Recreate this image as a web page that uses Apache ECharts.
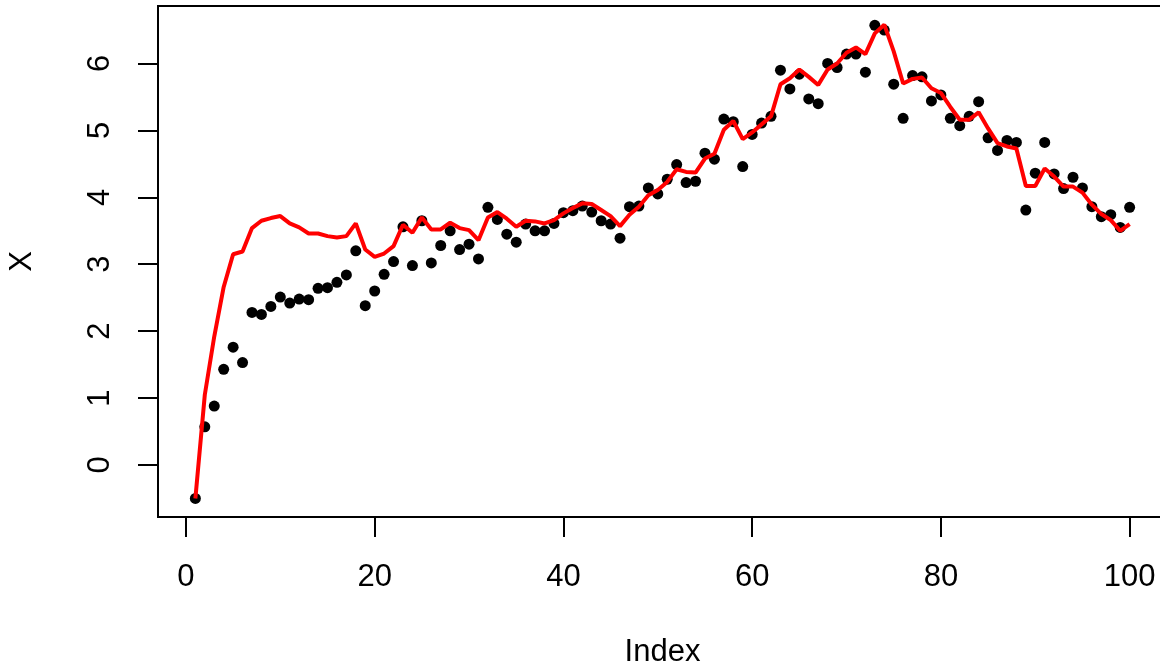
<!DOCTYPE html>
<html>
<head>
<meta charset="utf-8">
<script src="https://cdn.jsdelivr.net/npm/echarts@6/dist/echarts.min.js"></script>
<style>
  html, body { margin: 0; padding: 0; background: #fff; }
  #chart { width: 1160px; height: 667px; }
</style>
</head>
<body>
<div id="chart"></div>
<script>
// observed values (black points), index 1..100
const points = [
  -0.50, 0.57, 0.88, 1.43, 1.76, 1.53, 2.28, 2.25, 2.37, 2.51,
  2.42, 2.48, 2.47, 2.64, 2.65, 2.73, 2.84, 3.20, 2.38, 2.60,
  2.85, 3.04, 3.56, 2.98, 3.65, 3.02, 3.28, 3.50, 3.22, 3.30,
  3.08, 3.85, 3.67, 3.45, 3.33, 3.60, 3.50, 3.50, 3.61, 3.77,
  3.80, 3.87, 3.78, 3.65, 3.60, 3.39, 3.86, 3.87, 4.14, 4.05,
  4.27, 4.49, 4.22, 4.24, 4.66, 4.57, 5.17, 5.13, 4.46, 4.94,
  5.11, 5.21, 5.90, 5.62, 5.84, 5.47, 5.40, 6.00, 5.94, 6.14,
  6.14, 5.87, 6.57, 6.50, 5.69, 5.18, 5.82, 5.80, 5.44, 5.53,
  5.18, 5.07, 5.21, 5.43, 4.89, 4.70, 4.85, 4.82, 3.81, 4.36,
  4.82, 4.35, 4.13, 4.30, 4.14, 3.86, 3.71, 3.74, 3.55, 3.85
]

// red line
const smooth = [
  -0.50, 1.05, 1.92, 2.66, 3.15, 3.19, 3.54, 3.65, 3.69, 3.72,
  3.61, 3.55, 3.46, 3.46, 3.42, 3.40, 3.42, 3.61, 3.22, 3.11,
  3.16, 3.27, 3.59, 3.47, 3.70, 3.52, 3.52, 3.62, 3.54, 3.51,
  3.36, 3.70, 3.78, 3.68, 3.56, 3.65, 3.64, 3.61, 3.66, 3.76,
  3.84, 3.91, 3.90, 3.81, 3.72, 3.57, 3.74, 3.86, 4.03, 4.11,
  4.23, 4.42, 4.38, 4.37, 4.58, 4.65, 5.01, 5.14, 4.87, 4.97,
  5.09, 5.21, 5.69, 5.78, 5.91, 5.80, 5.68, 5.91, 6.00, 6.16,
  6.24, 6.14, 6.45, 6.58, 6.18, 5.70, 5.77, 5.79, 5.63, 5.56,
  5.35, 5.16, 5.16, 5.27, 5.03, 4.81, 4.76, 4.73, 4.17, 4.17,
  4.43, 4.31, 4.16, 4.16, 4.07, 3.89, 3.75, 3.66, 3.50, 3.60
]

const xTicks = [0, 20, 40, 60, 80, 100]
const yTicks = [0, 1, 2, 3, 4, 5, 6]

const chart = echarts.init(document.getElementById('chart'), null, { renderer: 'canvas' })

const font = { fontFamily: 'Liberation Sans', fontSize: 31, color: '#000', lineHeight: 31 }

const option = {
  animation: false,
  backgroundColor: '#fff',
  grid: {
    left: 158,
    top: 6,
    width: 1009,
    height: 511,
    outerBoundsMode: 'none',
    containLabel: false,
    show: true,
    borderColor: '#000',
    borderWidth: 2,
    backgroundColor: 'transparent'
  },
  xAxis: {
    type: 'value',
    min: -2.96,
    max: 103.96,
    name: 'Index',
    nameLocation: 'middle',
    nameGap: 120,
    nameTextStyle: font,
    axisLine: { show: false, onZero: false },
    splitLine: { show: false },
    axisTick: {
      show: true,
      length: 20,
      customValues: xTicks,
      lineStyle: { color: '#000', width: 2 }
    },
    axisLabel: {
      customValues: xTicks,
      margin: 45,
      ...font
    }
  },
  yAxis: {
    type: 'value',
    min: -0.777,
    max: 6.859,
    name: 'X',
    nameLocation: 'middle',
    nameRotate: 90,
    nameGap: 120,
    nameTextStyle: font,
    axisLine: { show: false, onZero: false },
    splitLine: { show: false },
    axisTick: {
      show: true,
      length: 20,
      customValues: yTicks,
      lineStyle: { color: '#000', width: 2 }
    },
    axisLabel: {
      customValues: yTicks,
      rotate: 90,
      margin: 42,
      ...font
    }
  },
  series: [
    {
      type: 'scatter',
      data: points.map((v, i) => [i + 1, v]),
      symbol: 'circle',
      symbolSize: 11,
      itemStyle: { color: '#000', opacity: 1 },
      z: 2
    },
    {
      type: 'line',
      data: smooth.map((v, i) => [i + 1, v]),
      showSymbol: false,
      symbol: 'none',
      lineStyle: { color: '#ff0000', width: 4 },
      z: 3
    }
  ]
}

chart.setOption(option)
</script>
</body>
</html>
